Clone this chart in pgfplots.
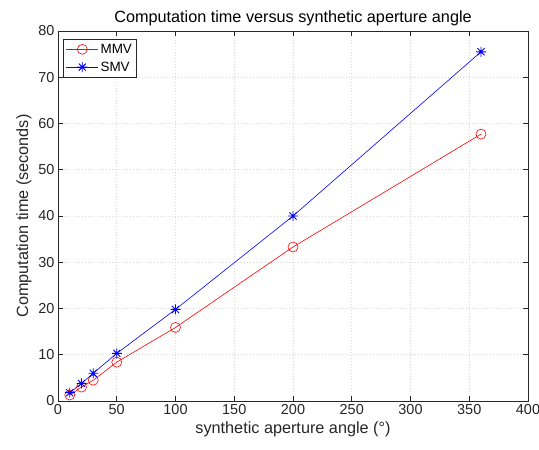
\documentclass[border=0pt]{standalone}
\usepackage{pgfplots}
\pgfplotsset{compat=1.18}
\usepackage{fontspec}
\setmainfont{Liberation Sans}
\definecolor{axgray}{rgb}{0.15,0.15,0.15}
\pgfdeclareplotmark{ast8}{%
  \pgfpathmoveto{\pgfqpoint{-\pgfplotmarksize}{0pt}}%
  \pgfpathlineto{\pgfqpoint{\pgfplotmarksize}{0pt}}%
  \pgfpathmoveto{\pgfqpoint{0pt}{-\pgfplotmarksize}}%
  \pgfpathlineto{\pgfqpoint{0pt}{\pgfplotmarksize}}%
  \pgfpathmoveto{\pgfqpoint{-0.707\pgfplotmarksize}{-0.707\pgfplotmarksize}}%
  \pgfpathlineto{\pgfqpoint{0.707\pgfplotmarksize}{0.707\pgfplotmarksize}}%
  \pgfpathmoveto{\pgfqpoint{-0.707\pgfplotmarksize}{0.707\pgfplotmarksize}}%
  \pgfpathlineto{\pgfqpoint{0.707\pgfplotmarksize}{-0.707\pgfplotmarksize}}%
  \pgfusepathqstroke}
\begin{document}
\begin{tikzpicture}
\begin{axis}[
  name=ax,
  scale only axis,
  width=470bp, height=370bp,
  xmin=0, xmax=400, ymin=0, ymax=80,
  xtick={0,50,...,400}, ytick={0,10,...,80},
  /pgf/number format/assume math mode=true,
  tick label style={font=\fontsize{14.5}{16}\selectfont, text=axgray},
  label style={font=\fontsize{16.3}{18}\selectfont, text=axgray},
  title style={font=\fontsize{16.3}{18}\selectfont, yshift=-4bp},
  title={Computation time versus synthetic aperture angle},
  xlabel={synthetic aperture angle (°)},
  ylabel={Computation time (seconds)},
  axis line style={axgray, line width=0.6bp},
  tick style={axgray, line width=0.6bp},
  tick align=inside,
  major tick length=5bp,
  xtick pos=both, ytick pos=both,
  grid=major,
  major grid style={gray!30, dash pattern=on 0.6bp off 2.4bp, line width=0.6bp},
  legend style={at={(0.011,0.978)}, anchor=north west, draw=axgray, line width=0.6bp,
    font=\fontsize{13.5}{15}\selectfont, inner sep=2.5bp, row sep=3bp},
  legend cell align=left,
  legend image code/.code={\draw[mark repeat=2,mark phase=2] plot coordinates {(0bp,0bp)(16bp,0bp)(32bp,0bp)};},
]
\addplot[red, line width=0.6bp, mark=o, mark size=5bp] coordinates {
  (10,1.3) (20,3.0) (30,4.5) (50,8.4) (100,15.9) (200,33.3) (360,57.7)};
\addlegendentry{MMV}
\addplot[blue, line width=0.6bp, mark=ast8, mark size=5bp, mark options={line width=0.9bp}] coordinates {
  (10,1.8) (20,3.8) (30,6.0) (50,10.3) (100,19.8) (200,40.0) (360,75.5)};
\addlegendentry{SMV}
\end{axis}
\pgfresetboundingbox
\path ([xshift=-58bp,yshift=-49bp]ax.south west) rectangle ([xshift=11bp,yshift=31bp]ax.north east);
\end{tikzpicture}
\end{document}
